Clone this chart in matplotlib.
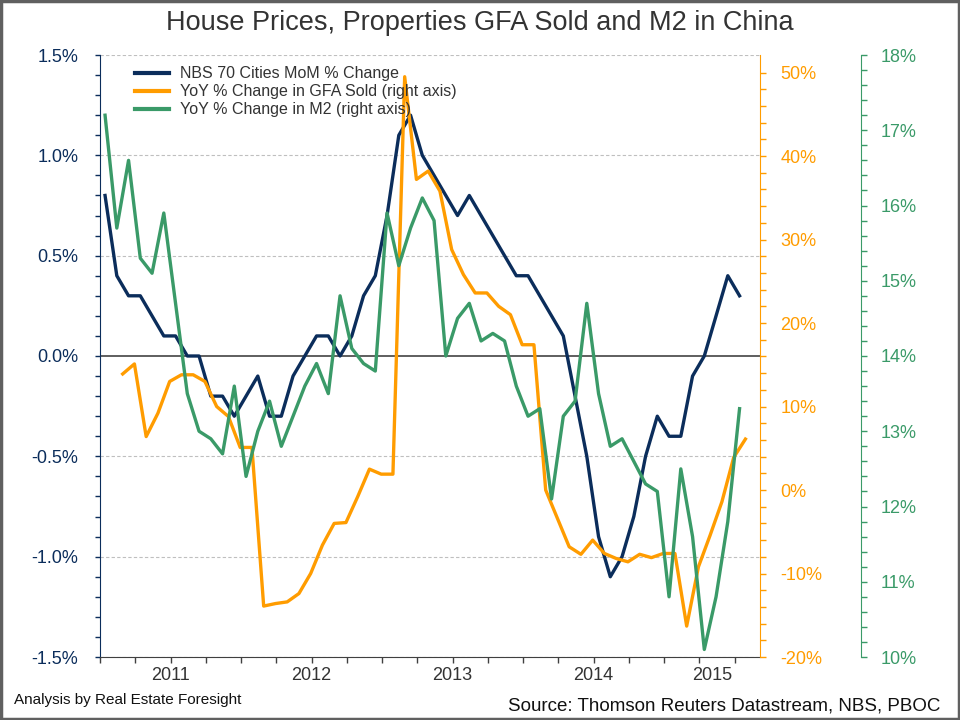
import numpy as np
import matplotlib
matplotlib.use("Agg")
import matplotlib.pyplot as plt
from matplotlib.ticker import FixedLocator, MultipleLocator, FuncFormatter
from matplotlib.patches import Rectangle

plt.rcParams['font.family'] = ['Liberation Sans', 'DejaVu Sans']

# monthly data, Jan 2011 .. Jul 2015
nbs_mom = [0.8, 0.4, 0.3, 0.3, 0.2, 0.1, 0.1, 0.0, 0.0, -0.2, -0.2, -0.3,
           -0.2, -0.1, -0.3, -0.3, -0.1, 0.0, 0.1, 0.1, 0.0, 0.1, 0.3, 0.4,
           0.7, 1.1, 1.2, 1.0, 0.9, 0.8, 0.7, 0.8, 0.7, 0.6, 0.5, 0.4,
           0.4, 0.3, 0.2, 0.1, -0.2, -0.5, -0.9, -1.1, -1.0, -0.8, -0.5, -0.3,
           -0.4, -0.4, -0.1, 0.0, 0.2, 0.4, 0.3]

m2_yoy = [17.2, 15.7, 16.6, 15.3, 15.1, 15.9, 14.7, 13.5, 13.0, 12.9, 12.7, 13.6,
          12.4, 13.0, 13.4, 12.8, 13.2, 13.6, 13.9, 13.5, 14.8, 14.1, 13.9, 13.8,
          15.9, 15.2, 15.7, 16.1, 15.8, 14.0, 14.5, 14.7, 14.2, 14.3, 14.2, 13.6,
          13.2, 13.3, 12.1, 13.2, 13.4, 14.7, 13.5, 12.8, 12.9, 12.6, 12.3, 12.2,
          10.8, 12.5, 11.6, 10.1, 10.8, 11.8, 13.3]

# GFA sold starts in Feb 2011
gfa_yoy = [13.9, 15.1, 6.4, 9.2, 13.0, 13.8, 13.8, 13.0, 10.0, 8.8, 5.1,
           5.1, -13.9, -13.6, -13.4, -12.4, -10.0, -6.6, -4.0, -3.9, -0.8, 2.5, 1.9,
           1.9, 49.5, 37.2, 38.2, 35.8, 28.8, 25.8, 23.6, 23.6, 22.0, 21.0, 17.4,
           17.4, 0.0, -3.4, -6.8, -7.7, -6.0, -7.6, -8.2, -8.6, -7.7, -8.1, -7.6,
           -7.6, -16.3, -9.2, -5.4, -1.4, 3.9, 6.1]

years = ['2011', '2012', '2013', '2014', '2015']

navy = '#0B2D5B'
orange = '#FF9C00'
green = '#3A9A68'
grey_txt = '#333333'

x_main = np.arange(len(nbs_mom))
x_gfa = np.arange(1, len(gfa_yoy) + 1) + 0.5

fig = plt.figure(figsize=(9.6, 7.2), dpi=100)
ax = fig.add_axes([100 / 960, 1 - 657 / 720, 660 / 960, 602 / 720])
ax2 = ax.twinx()
ax3 = ax.twinx()

x0, x1 = -0.43, 55.74
for a in (ax, ax2, ax3):
    a.set_xlim(x0, x1)
    a.patch.set_visible(False)

# gridlines + zero line
for g in [-1.5, -1.0, -0.5, 0.5, 1.0, 1.5]:
    ax.axhline(g, color='#BFBFBF', lw=0.8, ls=(0, (3, 2)), zorder=0)
ax.axhline(0, color='#333333', lw=1.1, zorder=1)

l1, = ax.plot(x_main, nbs_mom, color=navy, lw=2.4, zorder=3,
              label='NBS 70 Cities MoM % Change')
l2, = ax2.plot(x_gfa, gfa_yoy, color=orange, lw=2.4,
               label='YoY % Change in GFA Sold (right axis)')
l3, = ax3.plot(x_main, m2_yoy, color=green, lw=2.4,
               label='YoY % Change in M2 (right axis)')

# left axis
ax.set_ylim(-1.5, 1.5)
ax.yaxis.set_major_locator(MultipleLocator(0.5))
ax.yaxis.set_minor_locator(MultipleLocator(0.1))
ax.yaxis.set_major_formatter(FuncFormatter(lambda v, p: f"{v:.1f}%"))
ax.tick_params(axis='y', which='both', direction='out', length=3.5, width=1,
               color=navy, labelcolor=navy, labelsize=13, pad=12)
for s in ('top', 'right'):
    ax.spines[s].set_visible(False)
ax.spines['left'].set_color(navy)
ax.spines['bottom'].set_color('#404040')

# x axis: quarterly ticks, year labels centred in each year
ticks = x0 + 3 * np.arange(19)
ax.xaxis.set_major_locator(FixedLocator(ticks))
ax.xaxis.set_major_formatter(FuncFormatter(lambda v, p: ''))
ax.tick_params(axis='x', which='major', direction='out', length=4.5, width=1, color='#404040')
bounds = list(x0 + 12 * np.arange(5)) + [x1]
for i, yr in enumerate(years):
    ax.text((bounds[i] + bounds[i + 1]) / 2, -0.017, yr, transform=ax.get_xaxis_transform(),
            ha='center', va='top', fontsize=13, color=grey_txt)

# orange axis
ax2.set_ylim(-20, 52.1)
ax2.yaxis.set_major_locator(FixedLocator(np.arange(-20, 51, 10)))
ax2.yaxis.set_minor_locator(FixedLocator(np.arange(-20, 51, 2)))
ax2.yaxis.set_major_formatter(FuncFormatter(lambda v, p: f"{v:.0f}%"))
ax2.tick_params(axis='y', which='both', direction='out', length=4.5, width=1,
                color=orange, labelcolor=orange, labelsize=13, pad=10)
for s in ('top', 'left', 'bottom'):
    ax2.spines[s].set_visible(False)
ax2.spines['right'].set_color(orange)

# green axis
ax3.set_ylim(10, 18)
ax3.yaxis.set_major_locator(MultipleLocator(1))
ax3.yaxis.set_minor_locator(MultipleLocator(0.2))
ax3.yaxis.set_major_formatter(FuncFormatter(lambda v, p: f"{v:.0f}%"))
ax3.tick_params(axis='y', which='both', direction='out', length=4.5, width=1,
                color=green, labelcolor=green, labelsize=13, pad=10)
for s in ('top', 'left', 'bottom'):
    ax3.spines[s].set_visible(False)
ax3.spines['right'].set_position(('axes', (860.7 - 100) / 660))
ax3.spines['right'].set_color(green)

leg = ax3.legend(handles=[l1, l2, l3], loc='upper left',
                 bbox_to_anchor=(0.053, 0.981), frameon=False, fontsize=11.5,
                 handlelength=2.1, handletextpad=0.7, labelspacing=0.18,
                 borderpad=0, borderaxespad=0)
for t in leg.get_texts():
    t.set_color(grey_txt)
for h in leg.get_lines():
    h.set_linewidth(3)

fig.text(0.5, 1 - 23 / 720, 'House Prices, Properties GFA Sold and M2 in China',
         ha='center', va='center', fontsize=19.5, color=grey_txt)
fig.text(14 / 960, 1 - 700 / 720, 'Analysis by Real Estate Foresight',
         ha='left', va='center', fontsize=11, color='#111111')
fig.text(940 / 960, 1 - 706 / 720, 'Source: Thomson Reuters Datastream, NBS, PBOC',
         ha='right', va='center', fontsize=13.5, color='#111111')

fig.patches.append(Rectangle((0.001, 0.0015), 0.998, 0.997, transform=fig.transFigure,
                             fill=False, edgecolor='#606060', lw=2.5))

fig.savefig('out.png', dpi=100)
